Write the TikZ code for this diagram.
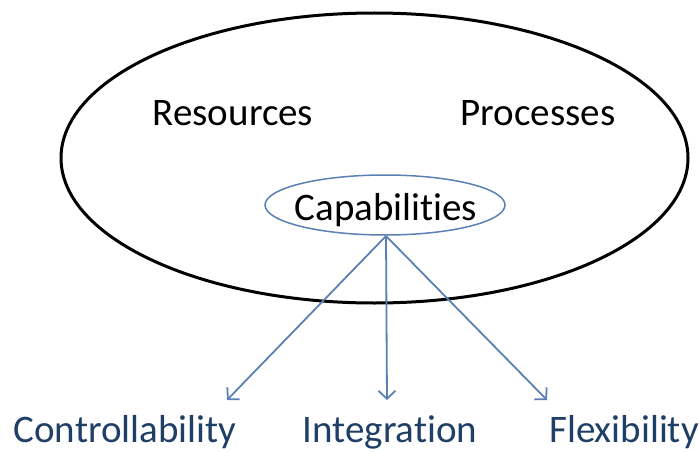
\documentclass[tikz,border=0pt]{standalone}
\usepackage{fontspec}
\setmainfont{Carlito}[Ligatures=NoCommon]
\usetikzlibrary{arrows.meta,shapes.geometric}
\definecolor{arrowblue}{HTML}{5A80B4}
\definecolor{labelblue}{HTML}{1F3F66}
\tikzset{
  biglabel/.style={font=\fontsize{39}{42}\selectfont, text=black, inner sep=0pt, anchor=base},
  outlabel/.style={font=\fontsize{39}{42}\selectfont, text=labelblue, inner sep=0pt, anchor=base},
  conn/.style={draw=arrowblue, line width=1.8pt, -{Straight Barb[length=8pt,width=17pt,line width=1.8pt]}},
}
\begin{document}
\begin{tikzpicture}[x=1pt,y=-1pt]
\useasboundingbox (0,0) rectangle (699,452);
\node[ellipse, draw=black, line width=3pt, minimum width=627pt, minimum height=290pt, inner sep=0pt] (world) at (374.5,158) {};
\node[biglabel] (res) at (233,125) {Resources};
\node[biglabel] (proc) at (538,125) {Processes};
\node[ellipse, draw=arrowblue, line width=1.5pt, fill=white, minimum width=240pt, minimum height=60pt, inner sep=0pt] (cap) at (385,205) {};
\node[biglabel] (captext) at (386,220) {Capabilities};
\coordinate (src) at (386,236);
\coordinate (t1) at (227,400);
\coordinate (t2) at (387,400);
\coordinate (t3) at (547,400);
\node[outlabel] (ctrl) at (125,442) {Controllability};
\node[outlabel] (integ) at (390,442) {Integration};
\node[outlabel] (flex) at (624,442) {Flexibility};
\draw[conn] (src) -- (t1);
\draw[conn] (src) -- (t2);
\draw[conn] (src) -- (t3);
\end{tikzpicture}
\end{document}
